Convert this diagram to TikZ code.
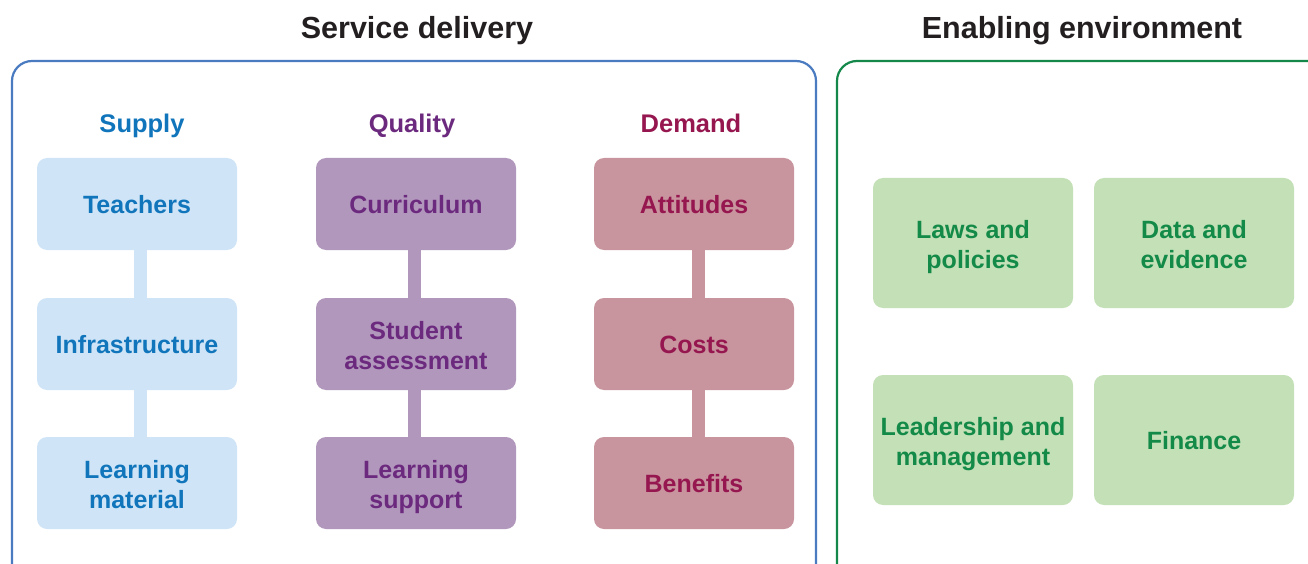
\documentclass[tikz,border=0pt]{standalone}
\usepackage{fontspec}
\setmainfont{Liberation Sans}
\begin{document}
\definecolor{titlegray}{HTML}{231F20}
\definecolor{blueframe}{HTML}{4A7BC0}
\definecolor{greenframe}{HTML}{14874A}
\definecolor{supfill}{HTML}{CFE5F7}
\definecolor{suptext}{HTML}{1175BB}
\definecolor{qualfill}{HTML}{B297BD}
\definecolor{qualtext}{HTML}{6C2A7E}
\definecolor{demfill}{HTML}{C8949E}
\definecolor{demtext}{HTML}{96174F}
\definecolor{envfill}{HTML}{C3E0B7}
\definecolor{envtext}{HTML}{148A48}
\begin{tikzpicture}[x=1pt,y=-1pt,
  frame/.style={line width=2.2pt, rounded corners=20pt},
  title/.style={anchor=base, font=\fontsize{30.5}{36}\selectfont\bfseries, text=titlegray},
  colhead/.style={anchor=base, font=\fontsize{25.5}{30}\selectfont\bfseries},
  item/.style={rectangle, rounded corners=10pt, minimum width=200pt, minimum height=92pt,
    inner sep=0pt, align=center, text height=18pt, text depth=0pt,
    font=\fontsize{25}{30.5}\selectfont\bfseries},
  two/.style={text height=51.5pt, text depth=0pt},
  envitem/.style={item, minimum height=130pt},
  sup/.style={item, fill=supfill, text=suptext},
  qual/.style={item, fill=qualfill, text=qualtext},
  dem/.style={item, fill=demfill, text=demtext},
  env/.style={envitem, fill=envfill, text=envtext},
  link/.style={line width=13pt}]
\useasboundingbox (0,0) rectangle (1308,564);
\clip (0,0) rectangle (1308,564);

% outer frames
\draw[frame, blueframe] (12,61) rectangle (816,600);
\draw[frame, greenframe] (837,61) rectangle (1330,600);

% titles
\node[title] (sd) at (417,39) {Service delivery};
\node[title] (ee) at (1082,39) {Enabling environment};

% column headings
\node[colhead, text=suptext] (hs) at (142,133) {Supply};
\node[colhead, text=qualtext] (hq) at (412,133) {Quality};
\node[colhead, text=demtext] (hd) at (691,133) {Demand};

% connectors (drawn first, boxes cover the ends)
\coordinate (s1) at (140.5,250); \coordinate (s2) at (140.5,298);
\coordinate (s3) at (140.5,390); \coordinate (s4) at (140.5,437);
\coordinate (q1) at (414,250); \coordinate (q2) at (414,298);
\coordinate (q3) at (414,390); \coordinate (q4) at (414,437);
\coordinate (d1) at (698,250); \coordinate (d2) at (698,298);
\coordinate (d3) at (698,390); \coordinate (d4) at (698,437);
\draw[link, supfill] (s1) -- (s2) (s3) -- (s4);
\draw[link, qualfill] (q1) -- (q2) (q3) -- (q4);
\draw[link, demfill] (d1) -- (d2) (d3) -- (d4);

% supply column
\node[sup] (teach) at (137,204) {Teachers};
\node[sup] (infra) at (137,344) {Infrastructure};
\node[sup, two] (lmat) at (137,483) {Learning\\material};

% quality column
\node[qual] (curr) at (416,204) {Curriculum};
\node[qual, two] (assess) at (416,344) {Student\\assessment};
\node[qual, two] (lsup) at (416,483) {Learning\\support};

% demand column
\node[dem] (att) at (694,204) {Attitudes};
\node[dem] (cost) at (694,344) {Costs};
\node[dem] (ben) at (694,483) {Benefits};

% enabling environment
\node[env, two] (laws) at (973,243) {Laws and\\policies};
\node[env, two] (data) at (1194,243) {Data and\\evidence};
\node[env, two] (lead) at (973,440) {Leadership and\\management};
\node[env] (fin) at (1194,440) {Finance};
\end{tikzpicture}
\end{document}
